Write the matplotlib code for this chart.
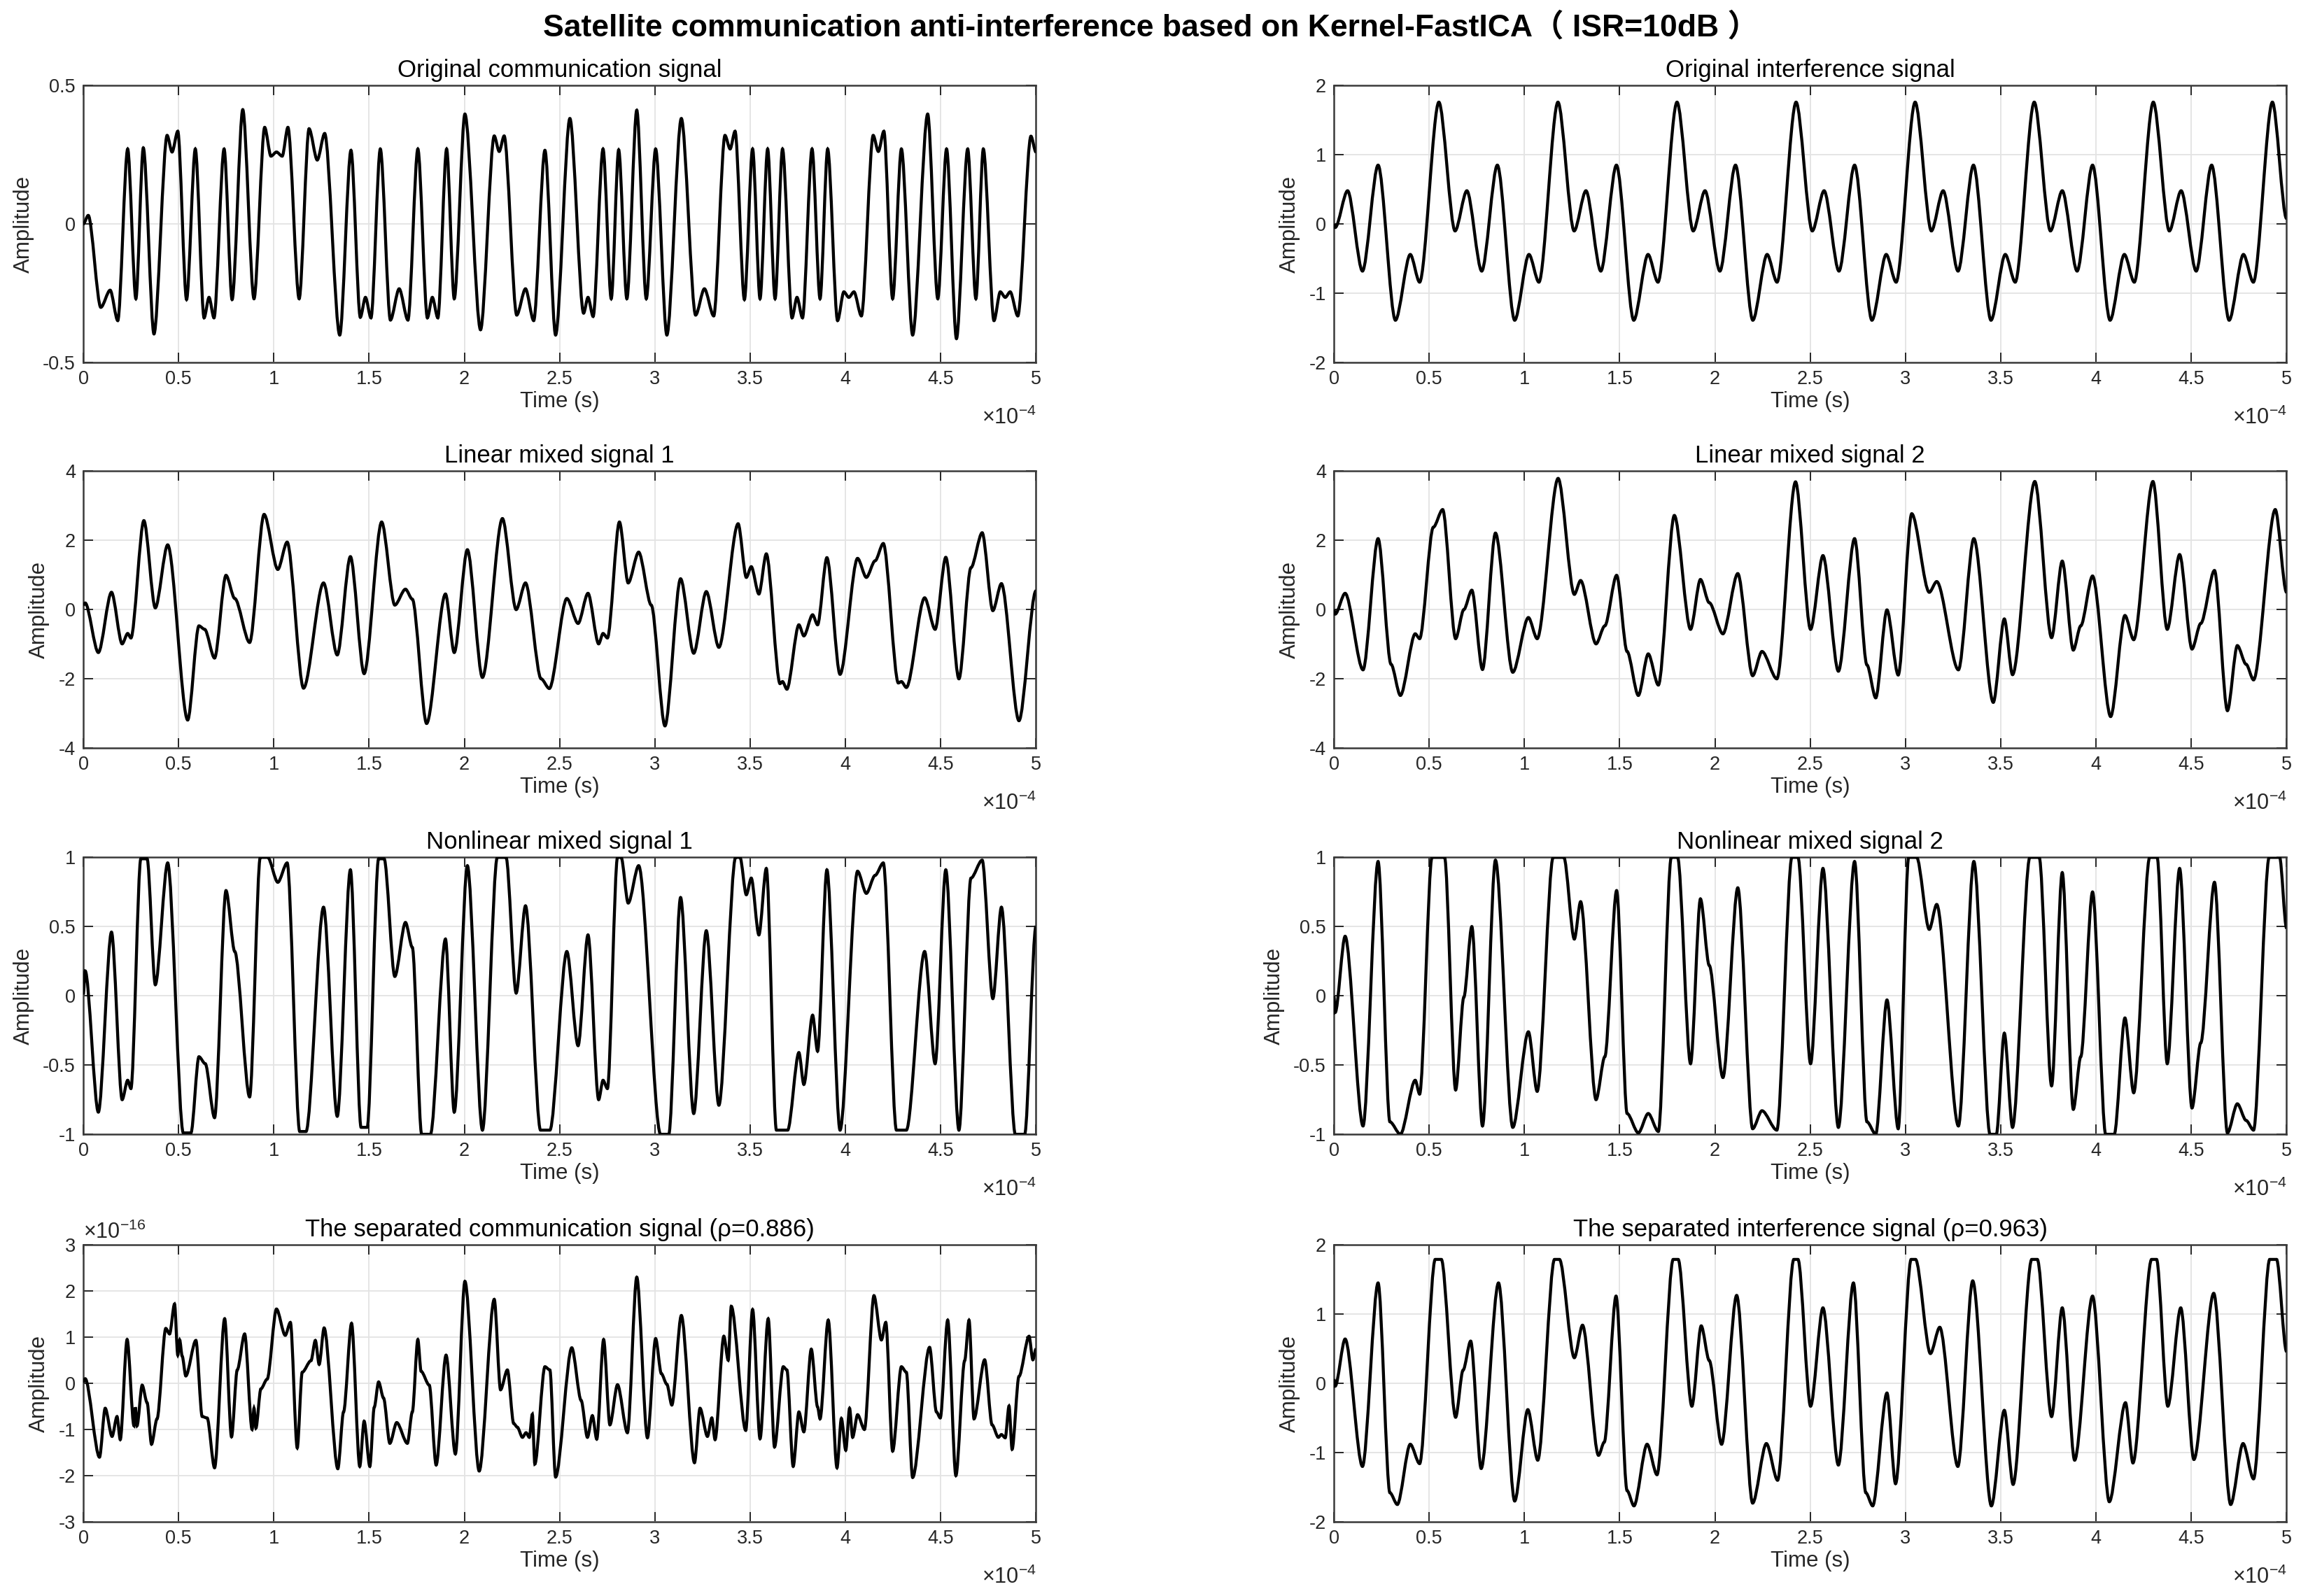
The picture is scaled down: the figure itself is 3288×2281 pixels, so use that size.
import numpy as np
import matplotlib
matplotlib.use('Agg')
import matplotlib.pyplot as plt
from matplotlib.path import Path
from matplotlib.patches import PathPatch
from matplotlib.ticker import FuncFormatter

plt.rcParams['font.family'] = ['Liberation Sans', 'DejaVu Sans']
plt.rcParams['axes.unicode_minus'] = False

# time in units of 1e-4 s (peaks, troughs, shoulders)
comm_t = [0, 0.026, 0.092, 0.141, 0.181, 0.233, 0.276, 0.315, 0.371, 0.440, 0.466, 0.496, 0.542, 0.588,
          0.634, 0.660, 0.686, 0.739, 0.781, 0.837, 0.896, 0.952, 0.985, 1.014, 1.044, 1.074, 1.133,
          1.185, 1.228, 1.267, 1.346, 1.405, 1.454, 1.481, 1.510, 1.559, 1.612, 1.658, 1.704, 1.756,
          1.806, 1.832, 1.861, 1.907, 1.947, 2.003, 2.085, 2.157, 2.183, 2.209, 2.275, 2.321, 2.364,
          2.423, 2.479, 2.554, 2.626, 2.649, 2.676, 2.728, 2.771, 2.810, 2.853, 2.905, 2.955, 3.004,
          3.063, 3.139, 3.214, 3.260, 3.309, 3.368, 3.395, 3.421, 3.470, 3.513, 3.552, 3.592, 3.631,
          3.670, 3.720, 3.746, 3.775, 3.825, 3.867, 3.907, 3.959, 3.992, 4.018, 4.045, 4.084, 4.146,
          4.173, 4.202, 4.248, 4.294, 4.353, 4.432, 4.485, 4.531, 4.583, 4.642, 4.685, 4.724, 4.780,
          4.813, 4.839, 4.865, 4.905, 4.974, 5.0]
comm_v = [0, 0.031, -0.301, -0.239, -0.349, 0.271, -0.270, 0.275, -0.397, 0.320, 0.260, 0.335, -0.273, 0.271,
          -0.339, -0.265, -0.339, 0.271, -0.273, 0.413, -0.270, 0.349, 0.245, 0.260, 0.245, 0.349, -0.270,
          0.344, 0.231, 0.327, -0.401, 0.266, -0.337, -0.265, -0.339, 0.271, -0.347, -0.234, -0.347, 0.271,
          -0.339, -0.265, -0.339, 0.271, -0.270, 0.397, -0.382, 0.318, 0.262, 0.318, -0.329, -0.234, -0.349,
          0.266, -0.401, 0.381, -0.322, -0.265, -0.334, 0.271, -0.270, 0.268, -0.270, 0.411, -0.270, 0.271,
          -0.401, 0.381, -0.329, -0.234, -0.332, 0.320, 0.271, 0.335, -0.273, 0.271, -0.270, 0.271, -0.270,
          0.271, -0.339, -0.265, -0.339, 0.271, -0.270, 0.271, -0.349, -0.245, -0.265, -0.245, -0.332, 0.320,
          0.262, 0.335, -0.270, 0.271, -0.401, 0.397, -0.270, 0.271, -0.414, 0.271, -0.270, 0.271, -0.349,
          -0.245, -0.265, -0.245, -0.332, 0.317, 0.260]

intf_t = [0, 0.007, 0.072, 0.150, 0.232, 0.323, 0.401, 0.450,
          0.551, 0.636, 0.698, 0.776, 0.858, 0.949, 1.024, 1.076,
          1.176, 1.261, 1.323, 1.401, 1.483, 1.574, 1.649, 1.701,
          1.801, 1.886, 1.948, 2.026, 2.108, 2.199, 2.274, 2.326,
          2.426, 2.511, 2.573, 2.651, 2.733, 2.824, 2.899, 2.951,
          3.051, 3.136, 3.198, 3.276, 3.357, 3.449, 3.524, 3.576,
          3.676, 3.761, 3.823, 3.901, 3.982, 4.074, 4.149, 4.201,
          4.301, 4.385, 4.447, 4.526, 4.607, 4.699, 4.774, 4.826,
          4.926, 5.0]
intf_v = [0, -0.05, 0.48, -0.68, 0.85, -1.39, -0.44, -0.84,
          1.76, -0.10, 0.48, -0.68, 0.85, -1.39, -0.44, -0.84,
          1.76, -0.10, 0.48, -0.68, 0.85, -1.39, -0.44, -0.84,
          1.76, -0.10, 0.48, -0.68, 0.85, -1.39, -0.44, -0.84,
          1.76, -0.10, 0.48, -0.68, 0.85, -1.39, -0.44, -0.84,
          1.76, -0.10, 0.48, -0.68, 0.85, -1.39, -0.44, -0.84,
          1.76, -0.10, 0.48, -0.68, 0.85, -1.39, -0.44, -0.84,
          1.76, -0.10, 0.48, -0.68, 0.85, -1.39, -0.44, -0.84,
          1.76, 0.08]

lin1_t = [0, 0.010, 0.079, 0.148, 0.204, 0.233, 0.250, 0.318, 0.378, 0.443, 0.548, 0.607, 0.637, 0.689,
          0.749, 0.795, 0.873, 0.949, 1.021, 1.070, 1.156, 1.261, 1.333, 1.402, 1.474, 1.566, 1.635,
          1.691, 1.727, 1.802, 1.901, 1.947, 2.016, 2.095, 2.200, 2.272, 2.321, 2.403, 2.446, 2.538,
          2.597, 2.649, 2.705, 2.728, 2.751, 2.814, 2.860, 2.915, 2.981, 3.053, 3.135, 3.204, 3.270,
          3.336, 3.437, 3.480, 3.506, 3.546, 3.585, 3.657, 3.670, 3.693, 3.756, 3.782, 3.828, 3.854,
          3.903, 3.972, 4.064, 4.110, 4.156, 4.199, 4.278, 4.294, 4.320, 4.416, 4.471, 4.527, 4.596,
          4.659, 4.718, 4.774, 4.819, 4.911, 5.0]
lin1_v = [0.13, 0.19, -1.24, 0.50, -0.99, -0.69, -0.82, 2.57, 0.05, 1.87, -3.19, -0.47, -0.57, -1.40,
          0.99, 0.32, -0.95, 2.75, 1.16, 1.95, -2.27, 0.77, -1.31, 1.53, -1.85, 2.53, 0.13,
          0.59, 0.30, -3.29, 0.45, -1.24, 1.73, -1.96, 2.63, 0.0, 0.77, -2.00, -2.28, 0.32,
          -0.40, 0.47, -0.99, -0.69, -0.82, 2.53, 0.77, 1.66, 0.13, -3.36, 0.89, -1.26, 0.52,
          -1.09, 2.48, 0.93, 1.24, 0.45, 1.61, -2.14, -2.08, -2.30, -0.44, -0.76, -0.15, -0.44,
          1.50, -1.87, 1.48, 0.93, 1.41, 1.91, -2.12, -2.08, -2.25, 0.34, -0.57, 1.51, -2.00,
          1.21, 2.22, -0.03, 0.75, -3.21, 0.54]

lin2_t = [0, 0.007, 0.059, 0.153, 0.232, 0.300, 0.349, 0.427, 0.450, 0.522, 0.571, 0.639, 0.682, 0.724,
          0.780, 0.848, 0.939, 1.021, 1.067, 1.177, 1.262, 1.295, 1.376, 1.422, 1.484, 1.539, 1.598,
          1.650, 1.703, 1.787, 1.872, 1.924, 1.970, 2.042, 2.120, 2.198, 2.247, 2.325, 2.423, 2.502,
          2.567, 2.648, 2.733, 2.798, 2.844, 2.903, 2.962, 3.033, 3.125, 3.164, 3.278, 3.359, 3.461,
          3.519, 3.562, 3.679, 3.767, 3.823, 3.881, 3.920, 3.982, 4.077, 4.152, 4.198, 4.299, 4.374,
          4.439, 4.504, 4.550, 4.622, 4.690, 4.742, 4.788, 4.827, 4.941, 5.0]
lin2_v = [0.0, -0.13, 0.47, -1.74, 2.05, -1.58, -2.48, -0.70, -0.84, 2.38, 2.89, -0.84, 0.0, 0.56,
          -1.73, 2.21, -1.81, -0.23, -0.84, 3.79, 0.44, 0.84, -0.99, -0.47, 0.99, -1.21, -2.48,
          -1.28, -2.18, 2.72, -0.57, 0.87, 0.20, -0.70, 1.04, -1.91, -1.21, -2.00, 3.69, -0.57,
          1.56, -1.78, 2.05, -1.60, -2.55, -0.01, -1.89, 2.77, 0.50, 0.81, -1.74, 2.05, -2.68,
          -0.27, -1.88, 3.70, -0.81, 1.40, -1.17, -0.47, 0.97, -3.09, -0.17, -0.87, 3.70, -0.57,
          1.59, -1.14, -0.40, 1.13, -2.92, -1.04, -1.58, -2.03, 2.89, 0.50]

nl1_t = [0, 0.010, 0.079, 0.148, 0.204, 0.233, 0.250, 0.302, 0.335, 0.378, 0.443, 0.525, 0.565, 0.607,
         0.640, 0.689, 0.749, 0.795, 0.873, 0.929, 0.968, 1.021, 1.070, 1.136, 1.169, 1.261, 1.333,
         1.402, 1.458, 1.490, 1.550, 1.579, 1.635, 1.691, 1.727, 1.776, 1.822, 1.901, 1.947, 2.016,
         2.095, 2.173, 2.219, 2.272, 2.321, 2.400, 2.449, 2.538, 2.597, 2.649, 2.705, 2.728, 2.751,
         2.804, 2.823, 2.860, 2.915, 3.030, 3.073, 3.135, 3.204, 3.270, 3.336, 3.424, 3.447, 3.480,
         3.506, 3.546, 3.585, 3.638, 3.697, 3.756, 3.782, 3.828, 3.854, 3.903, 3.972, 4.064, 4.110,
         4.156, 4.199, 4.268, 4.320, 4.416, 4.471, 4.527, 4.596, 4.659, 4.718, 4.774, 4.819, 4.892,
         4.941, 5.0]
nl1_v = [0.01, 0.18, -0.84, 0.46, -0.75, -0.61, -0.67, 0.99, 0.99, 0.08, 0.96, -0.99, -0.99, -0.44,
         -0.49, -0.88, 0.76, 0.32, -0.73, 1.0, 1.0, 0.82, 0.96, -0.98, -0.98, 0.64, -0.87,
         0.91, -0.95, -0.95, 0.99, 0.99, 0.14, 0.53, 0.35, -1.0, -1.0, 0.41, -0.84, 0.94,
         -0.97, 1.0, 1.0, 0.02, 0.65, -0.97, -0.97, 0.32, -0.36, 0.44, -0.75, -0.61, -0.67,
         1.0, 1.0, 0.67, 0.94, -1.0, -1.0, 0.71, -0.85, 0.47, -0.79, 1.0, 1.0, 0.73,
         0.85, 0.44, 0.92, -0.97, -0.97, -0.41, -0.64, -0.14, -0.40, 0.91, -0.97, 0.90, 0.74,
         0.87, 0.96, -0.97, -0.97, 0.32, -0.49, 0.91, -0.97, 0.85, 0.98, -0.02, 0.64, -1.0,
         -1.0, 0.50]

nl2_t = [0, 0.007, 0.059, 0.153, 0.232, 0.294, 0.349, 0.427, 0.450, 0.515, 0.581, 0.639, 0.682, 0.724,
         0.780, 0.848, 0.939, 1.021, 1.067, 1.151, 1.207, 1.262, 1.295, 1.376, 1.422, 1.484, 1.539,
         1.598, 1.650, 1.703, 1.771, 1.804, 1.872, 1.924, 1.970, 2.042, 2.120, 2.198, 2.247, 2.325,
         2.404, 2.436, 2.502, 2.567, 2.648, 2.733, 2.798, 2.844, 2.903, 2.962, 3.017, 3.059, 3.125,
         3.164, 3.278, 3.359, 3.444, 3.477, 3.519, 3.562, 3.653, 3.702, 3.767, 3.823, 3.881, 3.920,
         3.982, 4.051, 4.096, 4.152, 4.198, 4.282, 4.321, 4.374, 4.439, 4.504, 4.550, 4.622, 4.690,
         4.742, 4.788, 4.827, 4.909, 4.964, 5.0]
nl2_v = [0.0, -0.12, 0.43, -0.94, 0.97, -0.91, -1.0, -0.61, -0.71, 1.0, 1.0, -0.68, -0.01, 0.50,
         -0.94, 0.98, -0.95, -0.26, -0.69, 1.0, 1.0, 0.41, 0.68, -0.75, -0.44, 0.76, -0.85,
         -0.99, -0.85, -0.98, 1.0, 1.0, -0.49, 0.70, 0.22, -0.59, 0.78, -0.96, -0.83, -0.97,
         1.0, 1.0, -0.49, 0.92, -0.95, 0.97, -0.91, -1.0, -0.03, -0.96, 1.0, 1.0, 0.48,
         0.66, -0.94, 0.97, -1.0, -1.0, -0.27, -0.95, 1.0, 1.0, -0.65, 0.89, -0.82, -0.44,
         0.75, -1.0, -1.0, -0.16, -0.70, 1.0, 1.0, -0.49, 0.92, -0.81, -0.34, 0.82, -0.99,
         -0.78, -0.90, -0.97, 1.0, 1.0, 0.49]

# separated communication signal, values in units of 1e-16
sep1_t = [0, 0.010, 0.085, 0.115, 0.151, 0.177, 0.194, 0.230, 0.266, 0.273, 0.282, 0.309, 0.335, 0.358,
          0.387, 0.433, 0.453, 0.479, 0.496, 0.506, 0.519, 0.538, 0.591, 0.624, 0.650, 0.689, 0.742,
          0.778, 0.808, 0.847, 0.886, 0.896, 0.906, 0.932, 0.965, 1.014, 1.060, 1.087, 1.123, 1.149,
          1.195, 1.218, 1.238, 1.264, 1.336, 1.366, 1.408, 1.451, 1.474, 1.504, 1.527, 1.550, 1.576,
          1.609, 1.645, 1.701, 1.727, 1.756, 1.773, 1.816, 1.852, 1.904, 1.953, 2.003, 2.078, 2.157,
          2.190, 2.226, 2.259, 2.278, 2.305, 2.324, 2.341, 2.357, 2.370, 2.423, 2.449, 2.479, 2.564,
          2.613, 2.646, 2.672, 2.695, 2.731, 2.764, 2.804, 2.856, 2.905, 2.961, 3.004, 3.034, 3.063,
          3.089, 3.139, 3.208, 3.237, 3.276, 3.299, 3.316, 3.362, 3.385, 3.401, 3.477, 3.513, 3.552,
          3.595, 3.628, 3.674, 3.693, 3.726, 3.756, 3.782, 3.821, 3.854, 3.867, 3.910, 3.956, 3.979,
          4.002, 4.022, 4.038, 4.064, 4.100, 4.150, 4.189, 4.212, 4.248, 4.294, 4.320, 4.353, 4.442,
          4.478, 4.498, 4.537, 4.580, 4.626, 4.649, 4.675, 4.731, 4.770, 4.803, 4.819, 4.839, 4.859,
          4.875, 4.911, 4.964, 4.984, 5.0]
sep1_v = [0.03, 0.10, -1.60, -0.54, -1.15, -0.72, -1.22, 0.95, -0.92, -0.52, -0.92, -0.04, -0.42, -1.32,
          -0.77, 1.19, 1.07, 1.72, 0.61, 0.94, 0.59, 0.16, 0.93, -0.72, -0.75, -1.83, 1.40,
          -1.16, 0.29, 1.07, -1.00, -0.54, -0.97, -0.12, 0.09, 1.61, 1.04, 1.32, -1.40, 0.24,
          0.49, 0.93, 0.41, 1.20, -1.85, -0.62, 1.30, -1.80, -0.82, -1.80, -0.52, 0.03, -0.32,
          -1.30, -0.85, -1.30, -0.62, 0.95, 0.26, -0.04, -1.77, 0.61, -1.53, 2.21, -1.90, 1.82,
          -0.14, 0.29, -0.87, -0.95, -1.17, -1.07, -1.17, -0.67, -1.75, 0.36, 0.29, -2.03, 0.77,
          -0.37, -1.17, -0.70, -1.21, 0.95, -0.90, -0.03, -1.07, 2.30, -1.18, 0.97, 0.21, -0.02,
          -0.47, 1.47, -1.72, -0.54, -1.15, -0.75, -1.22, 1.02, 0.50, 1.67, -1.02, 1.60, -1.20,
          1.40, -1.38, 0.36, 0.29, -1.80, -0.62, -1.05, 0.74, -0.51, -0.77, 1.37, -1.83, -0.76,
          -1.45, -0.54, -1.17, -0.68, -1.00, 1.90, 0.94, 1.32, -1.47, 0.36, 0.24, -2.04, 0.78,
          -0.62, -0.75, 1.37, -2.00, 0.49, 1.37, -0.77, 0.51, -0.90, -1.17, -1.11, -1.18, -0.49,
          -1.43, 0.15, 1.02, 0.51, 0.74]

sep2_t = [0, 0.007, 0.059, 0.150, 0.232, 0.294, 0.333, 0.401, 0.450, 0.532, 0.564, 0.639, 0.678, 0.718,
          0.773, 0.864, 0.949, 1.018, 1.070, 1.158, 1.184, 1.262, 1.305, 1.389, 1.419, 1.481, 1.539,
          1.575, 1.644, 1.696, 1.781, 1.807, 1.879, 1.928, 1.970, 2.035, 2.114, 2.198, 2.270, 2.329,
          2.414, 2.436, 2.502, 2.567, 2.648, 2.727, 2.792, 2.828, 2.903, 2.948, 3.030, 3.053, 3.131,
          3.180, 3.275, 3.353, 3.451, 3.519, 3.565, 3.663, 3.692, 3.767, 3.823, 3.888, 3.982, 4.070,
          4.155, 4.194, 4.292, 4.318, 4.377, 4.445, 4.514, 4.618, 4.707, 4.772, 4.827, 4.912, 4.948,
          5.0]
sep2_v = [0.06, -0.04, 0.64, -1.20, 1.45, -1.58, -1.75, -0.88, -1.16, 1.79, 1.79, -0.49, 0.19, 0.61,
          -1.23, 1.45, -1.70, -0.38, -1.11, 1.79, 1.79, 0.37, 0.84, -1.04, -0.85, 1.26, -1.55,
          -1.77, -0.88, -1.32, 1.79, 1.79, -0.33, 0.83, 0.33, -0.88, 1.27, -1.73, -0.87, -1.40,
          1.79, 1.79, -0.33, 1.09, -1.18, 1.45, -1.58, -1.77, -0.14, -1.45, 1.79, 1.79, 0.43,
          0.81, -1.20, 1.48, -1.77, -0.39, -1.46, 1.79, 1.79, -0.48, 1.09, -1.11, 1.26, -1.71,
          -0.28, -1.15, 1.79, 1.79, -0.33, 1.09, -1.10, 1.30, -1.75, -0.87, -1.38, 1.79, 1.79,
          0.46]

titles = ['Original communication signal', 'Original interference signal',
          'Linear mixed signal 1', 'Linear mixed signal 2',
          'Nonlinear mixed signal 1', 'Nonlinear mixed signal 2',
          'The separated communication signal (\u03c1=0.886)',
          'The separated interference signal (\u03c1=0.963)']
series = [(comm_t, comm_v, 1.0), (intf_t, intf_v, 1.0),
          (lin1_t, lin1_v, 1.0), (lin2_t, lin2_v, 1.0),
          (nl1_t, nl1_v, 1.0), (nl2_t, nl2_v, 1.0),
          (sep1_t, sep1_v, 1e-16), (sep2_t, sep2_v, 1.0)]
yticks = [[-0.5, 0, 0.5], [-2, -1, 0, 1, 2],
          [-4, -2, 0, 2, 4], [-4, -2, 0, 2, 4],
          [-1, -0.5, 0, 0.5, 1], [-1, -0.5, 0, 0.5, 1],
          [-3, -2, -1, 0, 1, 2, 3], [-2, -1, 0, 1, 2]]
xticks = [0, 0.5, 1, 1.5, 2, 2.5, 3, 3.5, 4, 4.5, 5]


def smooth_path(t, v, k=0.3):
    # cubic Bezier through each pair of read points, flat tangent at each point
    verts = [(t[0], v[0])]
    codes = [Path.MOVETO]
    for i in range(len(t) - 1):
        d = t[i + 1] - t[i]
        verts += [(t[i] + k * d, v[i]), (t[i + 1] - k * d, v[i + 1]), (t[i + 1], v[i + 1])]
        codes += [Path.CURVE4] * 3
    return Path(verts, codes)


fig = plt.figure(figsize=(32.88, 22.81), dpi=100)

col_x = [0.0362, 0.5797]
row_y = [0.7729, 0.5313, 0.2893, 0.0465]
w, h = 0.414, 0.1735
dark = '#262626'

for i in range(8):
    ax = fig.add_axes([col_x[i % 2], row_y[i // 2], w, h])
    t, v, scale = series[i]
    ts = np.array(t) * 1e-4
    vs = np.array(v) * scale
    ax.add_patch(PathPatch(smooth_path(ts, vs), fill=False, edgecolor='k', lw=3.1, zorder=3))
    ax.set_xlim(0, 5e-4)
    yt = np.array(yticks[i]) * scale
    ax.set_ylim(yt[0], yt[-1])
    ax.set_xticks(np.array(xticks) * 1e-4)
    ax.set_yticks(yt)
    ax.xaxis.set_major_formatter(FuncFormatter(lambda x, p: '%g' % round(x * 1e4, 6)))
    ax.yaxis.set_major_formatter(FuncFormatter(lambda y, p, s=scale: '%g' % round(y / s, 6)))
    ax.grid(True, color='#e3e3e3', lw=1.3)
    ax.set_axisbelow(True)
    ax.tick_params(direction='in', length=10, width=1.4, top=True, right=True,
                   color=dark, labelcolor=dark, labelsize=19.5, pad=8)
    for sp in ax.spines.values():
        sp.set_color('#3a3a3a')
        sp.set_linewidth(1.8)
    ax.set_title(titles[i], fontsize=25, color='black', pad=9)
    ax.set_xlabel('Time (s)', fontsize=22.5, color=dark, labelpad=3)
    ax.set_ylabel('Amplitude', fontsize=22.5, color=dark, labelpad=9)
    ax.text(1.0, -0.2, '\u00d710$^{\\mathregular{-4}}$', transform=ax.transAxes,
            ha='right', va='center', fontsize=22, color=dark)
    if scale != 1.0:
        ax.text(0.0, 1.005, '\u00d710$^{\\mathregular{-16}}$', transform=ax.transAxes,
                ha='left', va='bottom', fontsize=22, color=dark)

fig.text(0.5, 0.983,
         'Satellite communication anti-interference based on Kernel-FastICA\uff08 ISR=10dB \uff09',
         fontsize=32, fontweight='bold', ha='center', va='center',
         family=['Liberation Sans', 'Noto Sans CJK SC', 'DejaVu Sans'])

fig.savefig('out.png', dpi=100, facecolor='white')
